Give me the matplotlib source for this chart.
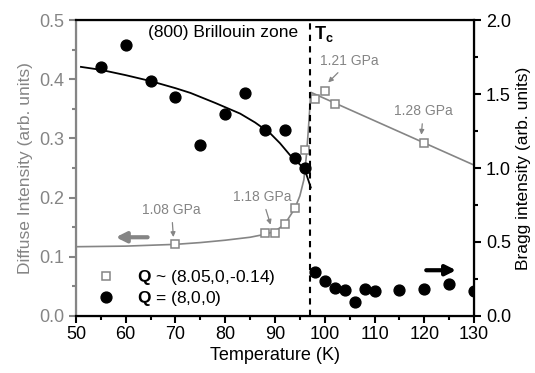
import matplotlib

matplotlib.use("Agg")
import matplotlib.pyplot as plt
from matplotlib.lines import Line2D
from matplotlib.ticker import MultipleLocator

plt.rcParams["font.family"] = ["Liberation Sans", "DejaVu Sans"]
plt.rcParams["mathtext.fontset"] = "custom"
plt.rcParams["mathtext.rm"] = "Liberation Sans"
plt.rcParams["mathtext.bf"] = "Liberation Sans:bold"

GRAY = "#858585"

# diffuse intensity (left axis), open squares
sq_temp = [70, 88, 90, 92, 94, 96, 98, 100, 102, 120]
sq_val = [0.121, 0.141, 0.140, 0.156, 0.182, 0.280, 0.367, 0.380, 0.358, 0.292]

# gray guide line (left axis)
gline_temp = [50, 60, 70, 75, 80, 85, 88, 90, 91.3, 92.5, 94, 95, 95.8, 96.3, 96.7, 97.2, 130]
gline_val = [0.117, 0.118, 0.121, 0.124, 0.128, 0.133, 0.138, 0.143, 0.151, 0.162,
             0.182, 0.203, 0.230, 0.270, 0.314, 0.378, 0.255]

# Bragg intensity (right axis), filled circles
bragg_temp = [55, 60, 65, 70, 75, 80, 84, 88, 92, 94, 96,
              98, 100, 102, 104, 106, 108, 110, 115, 120, 125, 130]
bragg_val = [1.68, 1.83, 1.59, 1.48, 1.155, 1.365, 1.51, 1.26, 1.26, 1.07, 1.00,
             0.295, 0.239, 0.189, 0.178, 0.095, 0.185, 0.169, 0.174, 0.182, 0.216, 0.171]

# black guide curve (right axis)
bline_temp = [51, 55, 60, 65, 70, 73, 78, 83, 86, 89, 91, 93, 95, 96, 97.2]
bline_val = [1.684, 1.664, 1.628, 1.588, 1.540, 1.508, 1.440, 1.368, 1.308, 1.236,
             1.168, 1.088, 1.024, 0.988, 0.868]

tc = 97.1

# pressure labels: (text, text centre, arrow tip) in left-axis units
pressure_notes = [
    ("1.08 GPa", (69.2, 0.179), (69.6, 0.131)),
    ("1.18 GPa", (87.4, 0.201), (89.2, 0.152)),
    ("1.21 GPa", (105.0, 0.431), (100.5, 0.393)),
    ("1.28 GPa", (119.8, 0.346), (119.4, 0.304)),
]

fig = plt.figure(figsize=(5.35, 3.73), dpi=100)
ax = fig.add_axes([0.142, 0.153, 0.744, 0.793])
ax2 = ax.twinx()

ax.plot(gline_temp, gline_val, color=GRAY, lw=1.2, zorder=2)
ax.plot(sq_temp, sq_val, ls="none", marker="s", ms=5.5, mfc="white", mec=GRAY, mew=1.1, zorder=3)
ax.axvline(tc, color="black", lw=1.5, ls=(0, (3, 2.5)), zorder=4)

ax2.plot(bline_temp, bline_val, color="black", lw=1.3, zorder=2)
ax2.plot(bragg_temp, bragg_val, ls="none", marker="o", ms=7.8, color="black", zorder=3)

for label, txt_pos, tip in pressure_notes:
    ax.annotate(label, xy=tip, xytext=txt_pos, color=GRAY, fontsize=10,
                ha="center", va="center",
                arrowprops=dict(arrowstyle="-|>", color=GRAY, lw=0.9,
                                mutation_scale=7, shrinkA=2, shrinkB=1))

ax.annotate("", xy=(58.0, 0.133), xytext=(64.4, 0.133),
            arrowprops=dict(arrowstyle="-|>,head_length=0.6,head_width=0.3", color=GRAY,
                            lw=3, mutation_scale=10, shrinkA=0, shrinkB=0))
ax2.annotate("", xy=(126.4, 0.309), xytext=(120.4, 0.309),
             arrowprops=dict(arrowstyle="-|>,head_length=0.6,head_width=0.3", color="black",
                             lw=3, mutation_scale=10, shrinkA=0, shrinkB=0))

ax.text(79.5, 0.479, "(800) Brillouin zone", fontsize=12.5, ha="center", va="center")
ax.text(97.9, 0.476, r"$\mathbf{T_c}$", fontsize=13, ha="left", va="center")

ax.set_xlim(50, 130)
ax.set_ylim(0, 0.5)
ax2.set_ylim(0, 2.0)

ax.xaxis.set_major_locator(MultipleLocator(10))
ax.xaxis.set_minor_locator(MultipleLocator(5))
ax.yaxis.set_major_locator(MultipleLocator(0.1))
ax.yaxis.set_minor_locator(MultipleLocator(0.05))
ax2.yaxis.set_major_locator(MultipleLocator(0.5))
ax2.yaxis.set_minor_locator(MultipleLocator(0.25))

ax.tick_params(axis="x", which="both", direction="out", top=False, labelsize=13,
               width=1.5, pad=2)
ax.tick_params(axis="x", which="major", length=5)
ax.tick_params(axis="x", which="minor", length=3)
ax.tick_params(axis="y", which="both", direction="out", colors=GRAY, labelsize=13, width=1.5)
ax.tick_params(axis="y", which="major", length=5)
ax.tick_params(axis="y", which="minor", length=3)
ax2.tick_params(axis="y", which="both", direction="out", colors="black", labelsize=13, width=1.5)
ax2.tick_params(axis="y", which="major", length=5)
ax2.tick_params(axis="y", which="minor", length=3)

for side in ["top", "bottom", "right"]:
    ax2.spines[side].set_linewidth(1.6)
ax2.spines["left"].set_color(GRAY)
ax2.spines["left"].set_linewidth(1.6)
ax.spines["left"].set_color(GRAY)

ax.set_xlabel("Temperature (K)", fontsize=13, labelpad=3)
ax.set_ylabel("Diffuse Intensity (arb. units)", fontsize=12.5, color=GRAY, labelpad=4)
ax2.set_ylabel("Bragg intensity (arb. units)", fontsize=12.5, color="black",
               rotation=90, labelpad=4)

handles = [
    Line2D([], [], ls="none", marker="s", ms=5.5, mfc="white", mec=GRAY, mew=1.1),
    Line2D([], [], ls="none", marker="o", ms=7.8, color="black"),
]
labels = [r"$\mathbf{Q}$ ~ (8.05,0,-0.14)", r"$\mathbf{Q}$ = (8,0,0)"]
ax2.legend(handles, labels, loc="lower left", bbox_to_anchor=(0.01, -0.025), frameon=False,
           fontsize=12.5, handletextpad=1.2, labelspacing=0.1, handlelength=1.2)

fig.savefig("out.png", dpi=100)
